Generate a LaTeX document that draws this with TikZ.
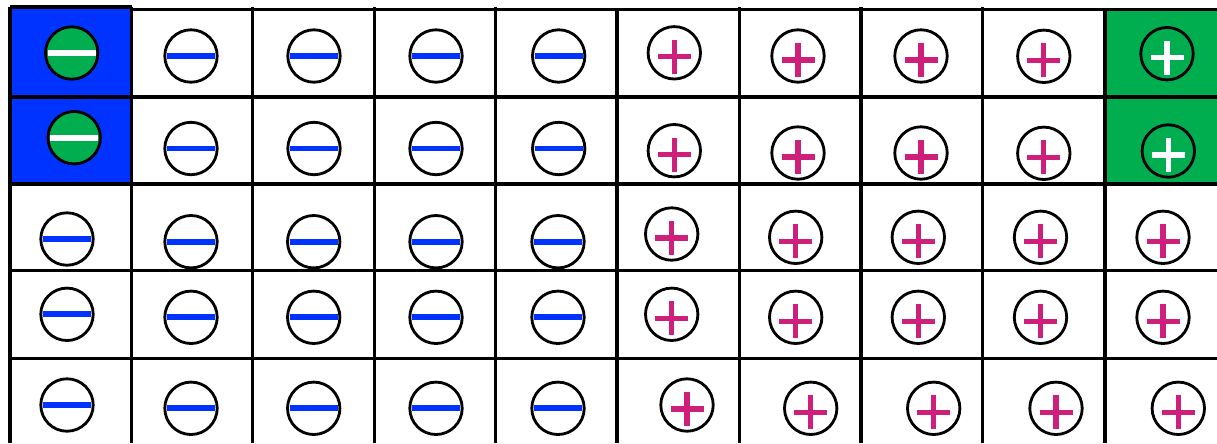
\documentclass[tikz,border=0pt]{standalone}
\definecolor{chargeblue}{RGB}{0,51,255}
\definecolor{chargegreen}{RGB}{0,173,79}
\definecolor{chargepink}{RGB}{206,31,122}
\tikzset{
  cellline/.style={line width=2.3pt},
  thickline/.style={line width=3pt},
  charge/.style={circle, draw=black, line width=2pt, minimum size=1.31cm, inner sep=0pt},
  neg/.style={charge, path picture={\draw[line width=4pt, draw=#1] (path picture bounding box.center) ++(-24,0) -- ++(48,0);}},
  neg/.default=chargeblue,
  pos/.style={charge, path picture={\draw[line width=3.8pt, draw=#1] (path picture bounding box.center) ++(-16.5,4) -- ++(33,0) (path picture bounding box.center) ++(0,-13) -- ++(0,34);}},
  pos/.default=chargepink,
}
\begin{document}
\begin{tikzpicture}[x=0.025cm, y=-0.025cm]
  \useasboundingbox (0,0) rectangle (1217,443);
  \clip (0,0) rectangle (1217,443);

  % Coloured cells
  \fill[chargeblue] (10,7) rectangle (132,184);
  \fill[chargegreen] (1105,10) rectangle (1217,184);

  % Grid
  \draw[cellline] (10,7) -- (132,7);
  \draw[cellline] (132,9.5) -- (1217,9.5);
  \foreach \y in {97,270.5,358.5}
    \draw[cellline] (10,\y) -- (1217,\y);
  \draw[thickline] (10,184) -- (1217,184);
  \foreach \x in {10,131.5,252.5,374.3,495.5,739.5,861,982.7}
    \draw[cellline] (\x,7) -- (\x,443);
  \foreach \x in {617.3,1105}
    \draw[thickline] (\x,9.5) -- (\x,443);

  % Negative charges
  \node[neg=white, fill=chargegreen] (neg-a) at (71.7,53) {};
  \node[neg=white, fill=chargegreen] (neg-b) at (74.2,137.7) {};
  \foreach \x/\y [count=\i] in {191/56,314/56,436/56,558.7/56,
      191/148.5,314/148.5,436/148.5,558.7/148.5,
      67/239,191/241.7,313.7/241.7,436/241.7,558/241.7,
      67/314.3,191/317.3,313.7/317.3,436/317.3,558/317.3,
      67/405,191/408.3,313.7/408.3,436/408.3,558/408.3}
    \node[neg] (neg-\i) at (\x,\y) {};

  % Positive charges
  \node[pos=white, fill=chargegreen] (pos-a) at (1167,53.7) {};
  \node[pos=white, fill=chargegreen] (pos-b) at (1168.3,151) {};
  \foreach \x/\y [count=\i] in {674.3/52.8,798/56,921/56,1043.8/56.3,
      674.3/150.7,798/153,921/153,1043.8/153.3,
      671.7/234,795.7/237.3,918.3/237.3,1040.5/237.3,1163/237.3,
      671.7/314.3,795.7/317.3,918.3/317.3,1040.5/317.3,1163/317.3,
      687/405,810.7/408.3,933.7/408.3,1056/408.3,1178.3/408.3}
    \node[pos] (pos-\i) at (\x,\y) {};
\end{tikzpicture}
\end{document}
